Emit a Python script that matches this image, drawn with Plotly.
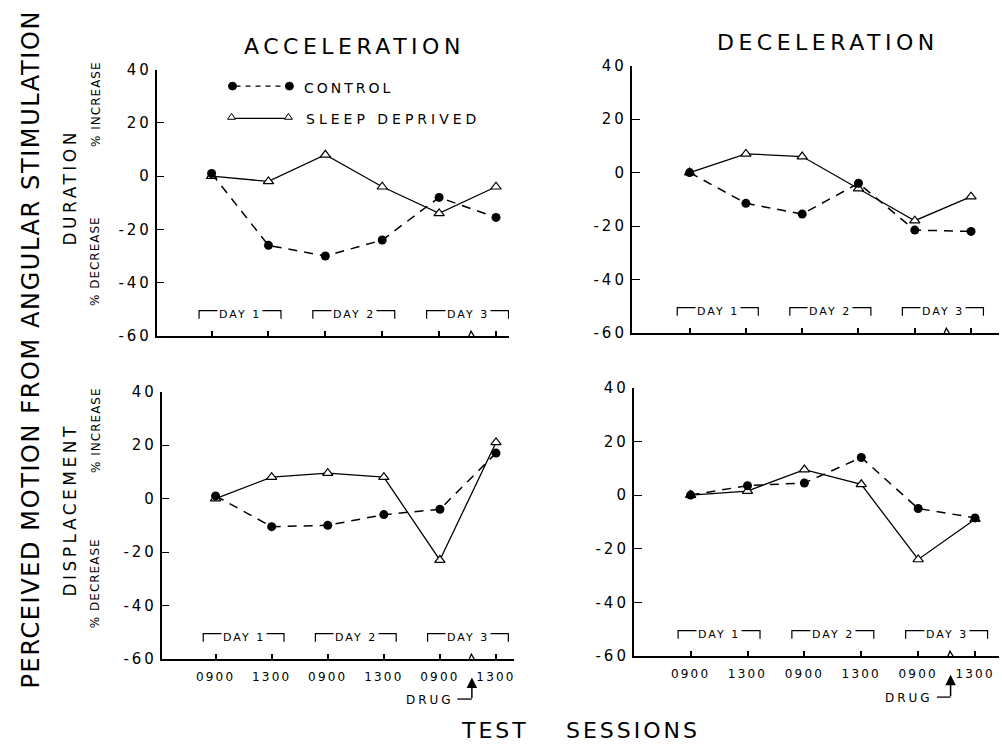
import plotly.graph_objects as go

# ---------------- data ----------------
sessions = ["0900", "1300", "0900", "1300", "0900", "1300"]
session_idx = [0, 1, 2, 3, 4, 5]
day_labels = ["DAY 1", "DAY 2", "DAY 3"]
y_ticks = [-60, -40, -20, 0, 20, 40]

acc_dur_control = [1, -26, -30, -24, -8, -15.5]
acc_dur_sleep = [0, -2, 8, -4, -14, -4]
dec_dur_control = [0, -11.5, -15.5, -4, -21.5, -22]
dec_dur_sleep = [0, 7, 6, -6, -18, -9]
acc_disp_control = [1, -10.5, -10, -6, -4, 17]
acc_disp_sleep = [0, 8, 9.5, 8, -23, 21]
dec_disp_control = [0, 3.5, 4.5, 14, -5, -8.5]
dec_disp_sleep = [0, 1.5, 9.5, 4, -24, -9]

FONT = "DejaVu Sans"
W, H = 1002, 751


def px(x):
    return x / W


def py(y):
    return 1 - y / H


def sp(text, s):
    return f'<span style="letter-spacing:{s}px">{text}</span>'


# panel geometry (pixels)
panels = [
    dict(name="1", left=157, right=510, top=62, bottom=335, x0=212, step=57, bottom_row=False,
         control=acc_dur_control, sleep=acc_dur_sleep),
    dict(name="2", left=633, right=1001, top=58, bottom=332, x0=691, step=56.4, bottom_row=False,
         control=dec_dur_control, sleep=dec_dur_sleep),
    dict(name="3", left=162, right=515, top=392, bottom=666, x0=216, step=56.2, bottom_row=True,
         control=acc_disp_control, sleep=acc_disp_sleep, drug_y=707, tip_y=685, drug_right=4.28),
    dict(name="4", left=635, right=1001, top=388, bottom=663, x0=692, step=57, bottom_row=True,
         control=dec_disp_control, sleep=dec_disp_sleep, drug_y=705, tip_y=682, drug_right=4.3),
]

fig = go.Figure()
layout = dict(
    width=W, height=H, margin=dict(l=0, r=0, t=0, b=0),
    paper_bgcolor="white", plot_bgcolor="white", showlegend=False,
    font=dict(family=FONT, color="black"),
)
shapes = []
annotations = []


def note(x, y, text, size, angle=0, xanchor="center", xref="paper", yref="paper", **kw):
    annotations.append(dict(xref=xref, yref=yref, x=x, y=y, text=text, showarrow=False,
                            textangle=angle, xanchor=xanchor, yanchor="middle",
                            font=dict(size=size, family=FONT, color="black"), **kw))


def pnote(xp, yp, text, size, angle=0, xanchor="center"):
    # pixel-positioned caps text; compensate for descender space in the text box
    if angle == 0:
        yp = yp + 0.12 * size
    else:
        xp = xp + 0.12 * size
    note(px(xp), py(yp), text, size, angle=angle, xanchor=xanchor)


for p in panels:
    n = p["name"]
    xa = "x" if n == "1" else "x" + n
    ya = "y" if n == "1" else "y" + n
    xkey = "xaxis" if n == "1" else "xaxis" + n
    ykey = "yaxis" if n == "1" else "yaxis" + n
    xr = [(p["left"] - p["x0"]) / p["step"], (p["right"] - p["x0"]) / p["step"]]
    layout[xkey] = dict(
        domain=[px(p["left"]), px(p["right"])], range=xr, anchor=ya,
        showline=True, linecolor="black", linewidth=1.6, showgrid=False, zeroline=False,
        ticks="inside", ticklen=5, tickwidth=1.5, tickcolor="black",
        tickvals=session_idx, ticktext=[sp(s, 2.2) for s in sessions],
        showticklabels=p["bottom_row"], tickfont=dict(size=12, family=FONT),
        ticklabelstandoff=6,
    )
    layout[ykey] = dict(
        domain=[py(p["bottom"]), py(p["top"])], range=[-60, 40], anchor=xa,
        showline=True, linecolor="black", linewidth=1.6, showgrid=False, zeroline=False,
        ticks="inside", ticklen=8, tickwidth=1.3, tickcolor="black",
        tickvals=y_ticks, ticktext=[sp(str(v), 3) for v in y_ticks],
        tickfont=dict(size=15, family=FONT),
    )
    fig.add_trace(go.Scatter(
        x=session_idx, y=p["sleep"], xaxis=xa, yaxis=ya, mode="lines+markers",
        line=dict(color="black", width=1.3),
        marker=dict(symbol="triangle-up", size=9, color="white",
                    line=dict(color="black", width=1.2)),
        cliponaxis=False,
    ))
    fig.add_trace(go.Scatter(
        x=session_idx, y=p["control"], xaxis=xa, yaxis=ya, mode="lines+markers",
        line=dict(color="black", width=1.5, dash="9px,7px"),
        marker=dict(symbol="circle", size=9, color="black"),
        cliponaxis=False,
    ))
    # day brackets
    for d, lab in enumerate(day_labels):
        a = session_idx[2 * d] - 0.22
        b = session_idx[2 * d + 1] + 0.22
        shapes.append(dict(type="path", xref=xa, yref=ya,
                           path=f"M {a},-53.5 L {a},-50.5 L {b},-50.5 L {b},-53.5",
                           line=dict(color="black", width=1.2)))
        note((a + b) / 2, -52, sp(lab, 2), 11, xref=xa, yref=ya, bgcolor="white", borderpad=1)
    # axis break mark
    shapes.append(dict(type="path", xref=xa, yref=ya,
                       path="M 4.42,-60.6 L 4.48,-62.2 L 4.56,-58.2 L 4.63,-60.6",
                       line=dict(color="black", width=1.3)))
    # drug arrow (bottom row)
    if p["bottom_row"]:
        drug_y, tip_y = p["drug_y"], p["tip_y"]
        shapes.append(dict(type="line", xref=xa, yref="paper", x0=p["drug_right"] + 0.03, x1=4.57,
                           y0=py(drug_y), y1=py(drug_y), line=dict(color="black", width=1.3)))
        annotations.append(dict(xref=xa, yref="paper", x=4.57, y=py(tip_y), text="",
                                showarrow=True, ax=0, ay=drug_y - tip_y, arrowhead=2,
                                arrowsize=1.4, arrowwidth=1.5, arrowcolor="black"))
        note(p["drug_right"], py(drug_y + 1.4), sp("DRUG", 3), 12, xref=xa, xanchor="right")

# titles
pnote(355, 36, sp("ACCELERATION", 4.5), 22)
pnote(830, 32, sp("DECELERATION", 4.5), 22)

# side labels
pnote(28, 349, sp("PERCEIVED MOTION FROM ANGULAR STIMULATION", 1.6), 24, angle=-90)
for txt, yc in [("DURATION", 183), ("DISPLACEMENT", 513)]:
    pnote(68, yc, sp(txt, 3.5), 17, angle=-90)
for txt, yc in [("% INCREASE", 98), ("% DECREASE", 258), ("% INCREASE", 432), ("% DECREASE", 588)]:
    pnote(94, yc, sp(txt, 1), 12, angle=-90)

# bottom title
pnote(496, 737, sp("TEST", 3), 22)
pnote(634, 737, sp("SESSIONS", 3), 22)

# legend (top-left panel)
shapes.append(dict(type="line", xref="paper", yref="paper", x0=px(236), x1=px(288),
                   y0=py(79), y1=py(79), line=dict(color="black", width=1.3, dash="5px,5px")))
for cx in (233, 290):
    shapes.append(dict(type="circle", xref="paper", yref="paper", x0=px(cx - 4), x1=px(cx + 4),
                       y0=py(83), y1=py(75), fillcolor="black", line=dict(color="black", width=1)))
shapes.append(dict(type="line", xref="paper", yref="paper", x0=px(232), x1=px(289),
                   y0=py(112), y1=py(112), line=dict(color="black", width=1.3)))
for cx in (232, 289):
    shapes.append(dict(type="path", xref="paper", yref="paper",
                       path=f"M {px(cx-4)},{py(113)} L {px(cx+4)},{py(113)} L {px(cx)},{py(107)} Z",
                       fillcolor="white", line=dict(color="black", width=1)))
pnote(303, 79, sp("CONTROL", 3), 14, xanchor="left")
pnote(305, 111, sp("SLEEP DEPRIVED", 4), 14, xanchor="left")

layout["shapes"] = shapes
layout["annotations"] = annotations
fig.update_layout(**layout)
fig.write_html("out.html")
